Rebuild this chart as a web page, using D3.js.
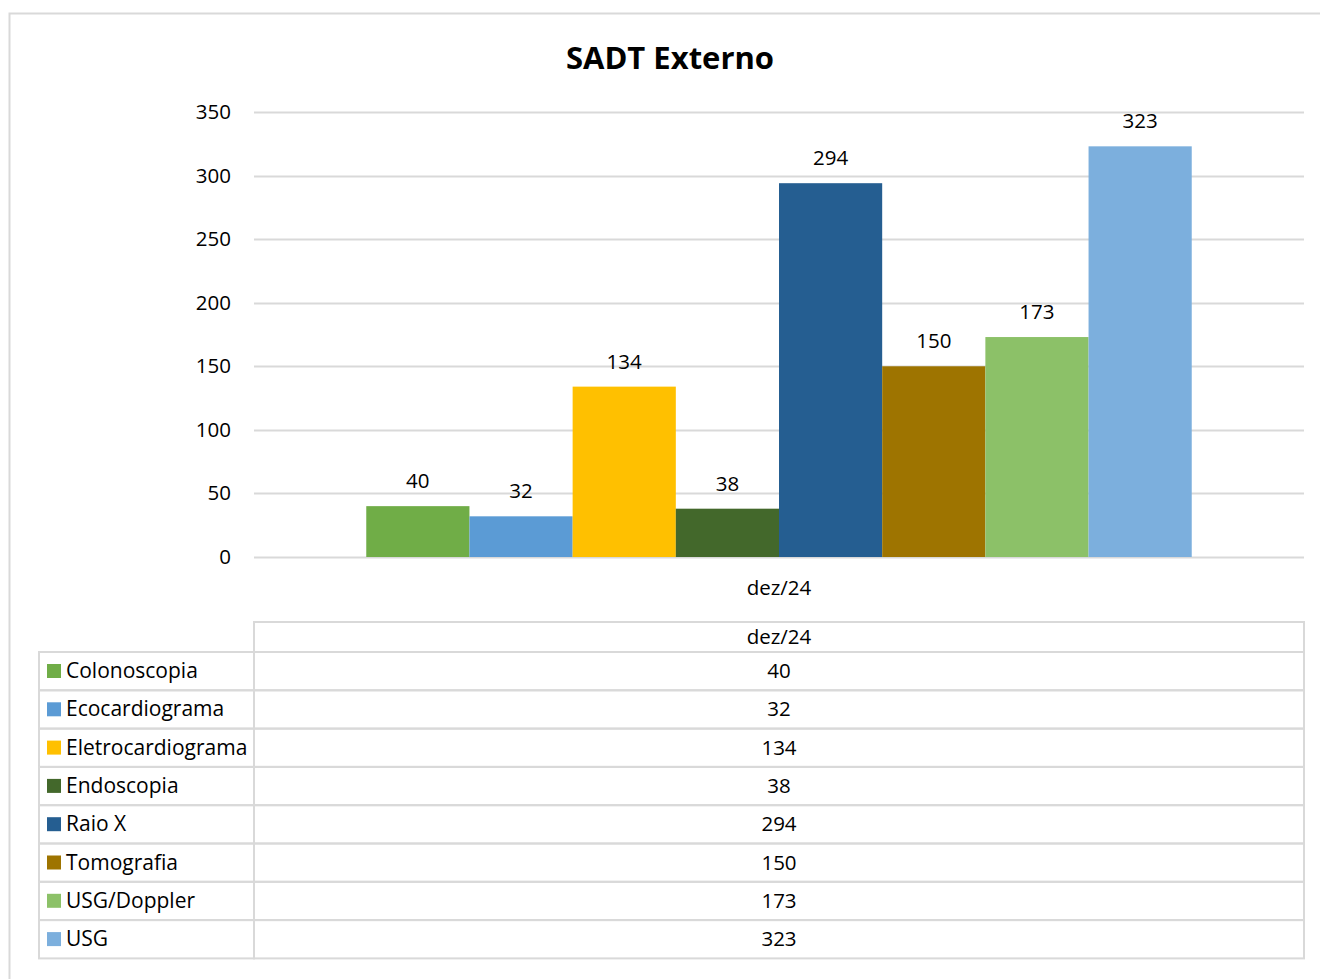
<!DOCTYPE html>
<html>
<head>
<meta charset="utf-8">
<script src="https://cdn.jsdelivr.net/npm/d3@7"></script>
<style>
  body { margin: 0; background: #fff; }
  svg { display: block; font-family: "Open Sans", "Noto Sans", sans-serif; }
</style>
</head>
<body>
<svg id="chart" width="1320" height="979"></svg>
<script>
var categories = ["dez/24"];
var seriesNames = ["Colonoscopia", "Ecocardiograma", "Eletrocardiograma", "Endoscopia", "Raio X", "Tomografia", "USG/Doppler", "USG"];
var seriesValues = [40, 32, 134, 38, 294, 150, 173, 323];
var seriesColors = ["#70ad47", "#5b9bd5", "#ffc000", "#43682b", "#255e91", "#9e7400", "#8cc168", "#7cafdd"];
var yTicks = [0, 50, 100, 150, 200, 250, 300, 350];

var svg = d3.select("#chart");
var gridColor = "#d9d9d9";

// outer frame
svg.append("path")
  .attr("d", "M9.5,979 L9.5,13.5 L1320,13.5")
  .attr("fill", "none")
  .attr("stroke", gridColor)
  .attr("stroke-width", 2);

svg.append("text")
  .attr("x", 670).attr("y", 69)
  .attr("text-anchor", "middle")
  .attr("font-size", 31).attr("font-weight", "bold")
  .attr("fill", "#000")
  .text("SADT Externo");

var plotLeft = 254, plotRight = 1304;
var y = d3.scaleLinear().domain([0, 350]).range([557, 112]);
var x0 = d3.scaleBand().domain(categories).range([plotLeft, plotRight]).paddingInner(0).paddingOuter(0.136);
var x1 = d3.scaleBand().domain(seriesNames).range([0, x0.bandwidth()]);

// gridlines
svg.append("g").selectAll("line").data(yTicks).join("line")
  .attr("x1", plotLeft).attr("x2", plotRight)
  .attr("y1", function(d) { return Math.round(y(d)) + 0.5; })
  .attr("y2", function(d) { return Math.round(y(d)) + 0.5; })
  .attr("stroke", gridColor).attr("stroke-width", 2);

svg.append("g").selectAll("text").data(yTicks).join("text")
  .attr("x", 231).attr("y", function(d) { return y(d) + 7; })
  .attr("text-anchor", "end")
  .attr("font-size", 20.5).attr("fill", "#000")
  .text(function(d) { return d; });

var data = seriesNames.map(function(n, i) { return { name: n, value: seriesValues[i], color: seriesColors[i] }; });

var grp = svg.append("g").attr("transform", "translate(" + x0(categories[0]) + ",0)");
grp.selectAll("rect").data(data).join("rect")
  .attr("x", function(d) { return x1(d.name); })
  .attr("width", x1.bandwidth())
  .attr("y", function(d) { return y(d.value); })
  .attr("height", function(d) { return y(0) - y(d.value); })
  .attr("fill", function(d) { return d.color; });

grp.selectAll("text").data(data).join("text")
  .attr("x", function(d) { return x1(d.name) + x1.bandwidth() / 2; })
  .attr("y", function(d) { return y(d.value) - 18; })
  .attr("text-anchor", "middle")
  .attr("font-size", 20.5).attr("fill", "#000")
  .text(function(d) { return d.value; });

// category label
svg.append("text")
  .attr("x", x0(categories[0]) + x0.bandwidth() / 2).attr("y", 595)
  .attr("text-anchor", "middle")
  .attr("font-size", 20.5).attr("fill", "#000")
  .text(categories[0]);

// data table
var tableTop = 622, headerH = 30, rowH = 38.3, labelLeft = 39;
var rowY = d3.scaleLinear().domain([0, seriesNames.length]).range([tableTop + headerH, tableTop + headerH + rowH * seriesNames.length]);
var tbl = svg.append("g").attr("fill", "none").attr("stroke", gridColor).attr("stroke-width", 2);

tbl.append("rect").attr("x", plotLeft).attr("y", tableTop).attr("width", plotRight - plotLeft).attr("height", headerH);
data.forEach(function(d, i) {
  tbl.append("rect").attr("x", labelLeft).attr("y", rowY(i)).attr("width", plotLeft - labelLeft).attr("height", rowH);
  tbl.append("rect").attr("x", plotLeft).attr("y", rowY(i)).attr("width", plotRight - plotLeft).attr("height", rowH);
});

svg.append("text")
  .attr("x", x0(categories[0]) + x0.bandwidth() / 2).attr("y", tableTop + 22)
  .attr("text-anchor", "middle").attr("font-size", 20.5).attr("fill", "#000")
  .text(categories[0]);

var rows = svg.append("g").selectAll("g").data(data).join("g")
  .attr("transform", function(d, i) { return "translate(0," + rowY(i) + ")"; });
rows.append("rect")
  .attr("x", 47).attr("y", 12).attr("width", 14).attr("height", 14)
  .attr("fill", function(d) { return d.color; });
rows.append("text")
  .attr("x", 66).attr("y", 26)
  .attr("font-size", 21).attr("fill", "#000")
  .text(function(d) { return d.name; });
rows.append("text")
  .attr("x", x0(categories[0]) + x0.bandwidth() / 2).attr("y", 26)
  .attr("text-anchor", "middle")
  .attr("font-size", 20.5).attr("fill", "#000")
  .text(function(d) { return d.value; });
</script>
</body>
</html>
